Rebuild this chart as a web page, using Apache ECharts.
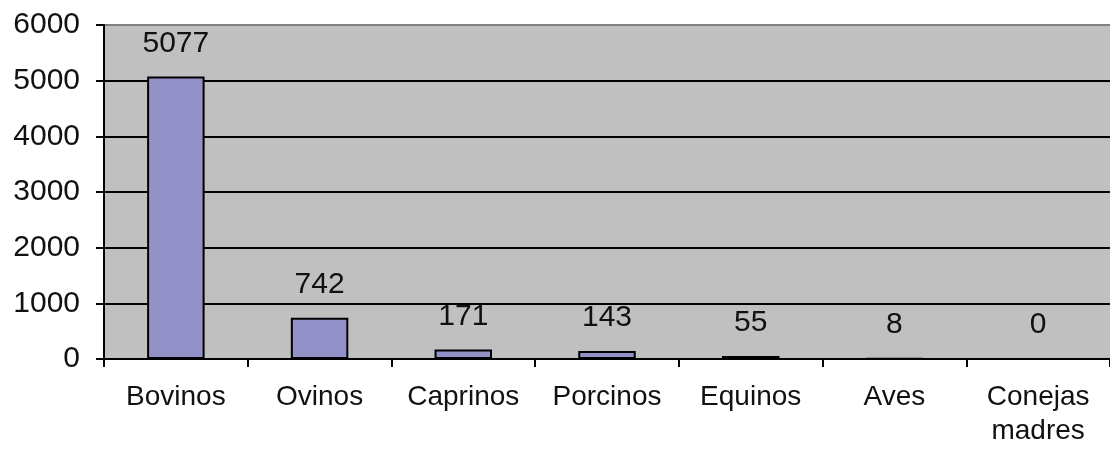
<!DOCTYPE html>
<html>
<head>
<meta charset="utf-8">
<script src="https://cdn.jsdelivr.net/npm/echarts@6/dist/echarts.min.js"></script>
<style>
  html, body { margin: 0; padding: 0; background: #fff; overflow: hidden; }
  #chart { width: 1110px; height: 450px; }
</style>
</head>
<body>
<div id="chart"></div>
<script>
// Livestock head counts by species
const categories = ['Bovinos', 'Ovinos', 'Caprinos', 'Porcinos', 'Equinos', 'Aves', 'Conejas\nmadres'];
const values = [5077, 742, 171, 143, 55, 8, 0];
const yMin = 0;
const yMax = 6000;
const yStep = 1000;

const font = '"Liberation Sans", Arial, sans-serif';
const textColor = '#111';

const chart = echarts.init(document.getElementById('chart'), null, { renderer: 'canvas' });

chart.setOption({
  animation: false,
  grid: {
    left: 104,
    top: 25,
    right: -6,
    bottom: 91,
    show: true,
    backgroundColor: '#c0c0c0',
    borderWidth: 0
  },
  xAxis: {
    type: 'category',
    data: categories,
    boundaryGap: true,
    axisLine: { show: true, lineStyle: { color: '#000', width: 2 } },
    axisTick: { show: true, inside: false, length: 8, alignWithLabel: false, lineStyle: { color: '#000', width: 2 } },
    axisLabel: {
      color: textColor,
      fontFamily: font,
      fontSize: 28,
      lineHeight: 34,
      margin: 21,
      interval: 0
    },
    splitLine: { show: false }
  },
  yAxis: {
    type: 'value',
    min: yMin,
    max: yMax,
    interval: yStep,
    axisLine: { show: true, lineStyle: { color: '#000', width: 2 } },
    axisTick: { show: true, inside: false, length: 8, lineStyle: { color: '#000', width: 2 } },
    axisLabel: {
      color: textColor,
      fontFamily: font,
      fontSize: 30,
      margin: 24,
      formatter: (v) => String(v)
    },
    splitLine: {
      show: true,
      lineStyle: {
        color: ['#000', '#000', '#000', '#000', '#000', '#000', '#808080'],
        width: 2
      }
    }
  },
  series: [{
    type: 'bar',
    data: values,
    barWidth: '40%',
    itemStyle: {
      color: '#9292c8',
      borderColor: '#000',
      borderWidth: 2
    },
    label: {
      show: true,
      position: 'top',
      distance: 18,
      color: textColor,
      fontFamily: font,
      fontSize: 30
    }
  }]
});
</script>
</body>
</html>
